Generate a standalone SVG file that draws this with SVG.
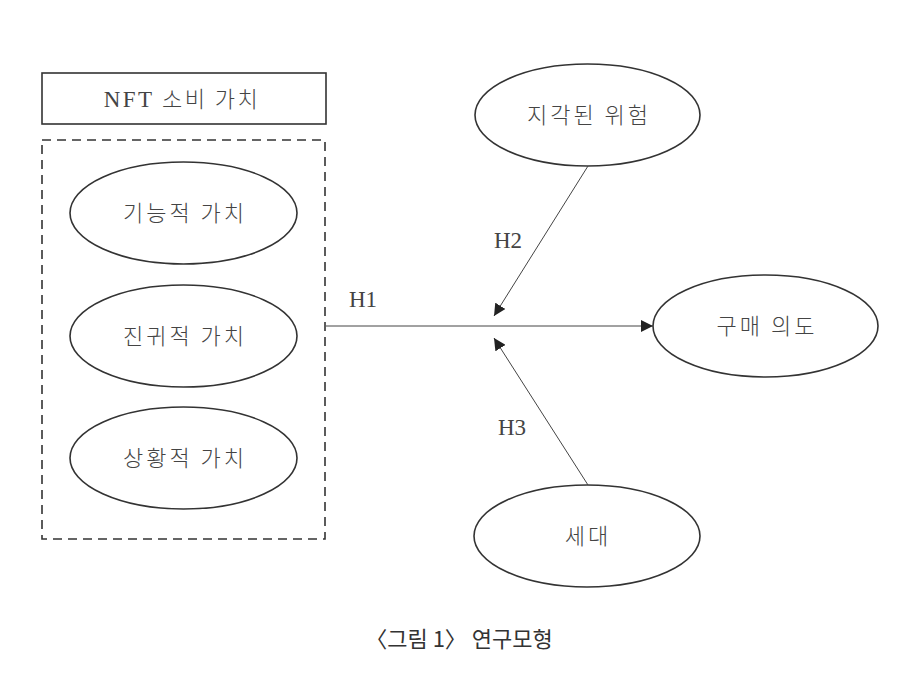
<svg xmlns="http://www.w3.org/2000/svg" width="919" height="675" viewBox="0 0 919 675">
<style>
.n{fill:#fff;stroke:#333;stroke-width:1.6}
.t{font-size:22px;fill:#444;text-anchor:middle;font-weight:300;letter-spacing:2.5px}
.k{font-family:"Noto Sans CJK KR",sans-serif;font-size:22px;fill:#444;text-anchor:middle;font-weight:300;letter-spacing:3px}
.c{stroke:#444;stroke-width:1;fill:none}
.l{font-family:"Liberation Serif",serif;font-size:23px;fill:#444;text-anchor:middle}
</style>
<defs>
<marker id="a" viewBox="0 0 10 10" refX="10" refY="5" markerWidth="12" markerHeight="12" markerUnits="userSpaceOnUse" orient="auto">
<path d="M0,0 L10,5 L0,10 z" fill="#222"/>
</marker>
</defs>
<rect width="919" height="675" fill="#fff"/>
<g id="nft-title">
<rect x="42" y="73" width="284" height="51" class="n"/>
<text x="182" y="107" class="t"><tspan font-family="Liberation Serif" font-size="23">NFT</tspan><tspan font-family="Noto Sans CJK KR"> 소비 가치</tspan></text>
</g>
<g id="nft-group">
<rect x="42" y="140" width="283" height="399" fill="none" stroke="#333" stroke-width="1.6" stroke-dasharray="9,6"/>
</g>
<g id="functional">
<ellipse cx="183.5" cy="213" rx="113.5" ry="51" class="n"/>
<text x="185" y="221" class="k">기능적 가치</text>
</g>
<g id="authentic">
<ellipse cx="183.5" cy="336" rx="113.5" ry="51" class="n"/>
<text x="185" y="344" class="k">진귀적 가치</text>
</g>
<g id="situational">
<ellipse cx="183.5" cy="458" rx="113.5" ry="51" class="n"/>
<text x="185" y="466" class="k">상황적 가치</text>
</g>
<g id="risk">
<ellipse cx="587.5" cy="115" rx="112.5" ry="51" class="n"/>
<text x="589" y="123" class="k">지각된 위험</text>
</g>
<g id="intention">
<ellipse cx="765.5" cy="326" rx="112.5" ry="51" class="n"/>
<text x="767" y="334" class="k">구매 의도</text>
</g>
<g id="generation">
<ellipse cx="587" cy="536" rx="113" ry="51" class="n"/>
<text x="588" y="544" class="k">세대</text>
</g>
<g id="connectors">
<line x1="326" y1="326" x2="653" y2="326" class="c" marker-end="url(#a)"/>
<line x1="588" y1="166" x2="494" y2="316" class="c" marker-end="url(#a)"/>
<line x1="588" y1="485" x2="494" y2="338" class="c" marker-end="url(#a)"/>
<text x="363" y="307" class="l">H1</text>
<text x="508" y="248" class="l">H2</text>
<text x="512" y="435" class="l">H3</text>
</g>
<text x="459" y="647" font-family="Noto Sans CJK KR, sans-serif" font-size="22" fill="#333" text-anchor="middle">〈그림 1〉 연구모형</text>
</svg>
